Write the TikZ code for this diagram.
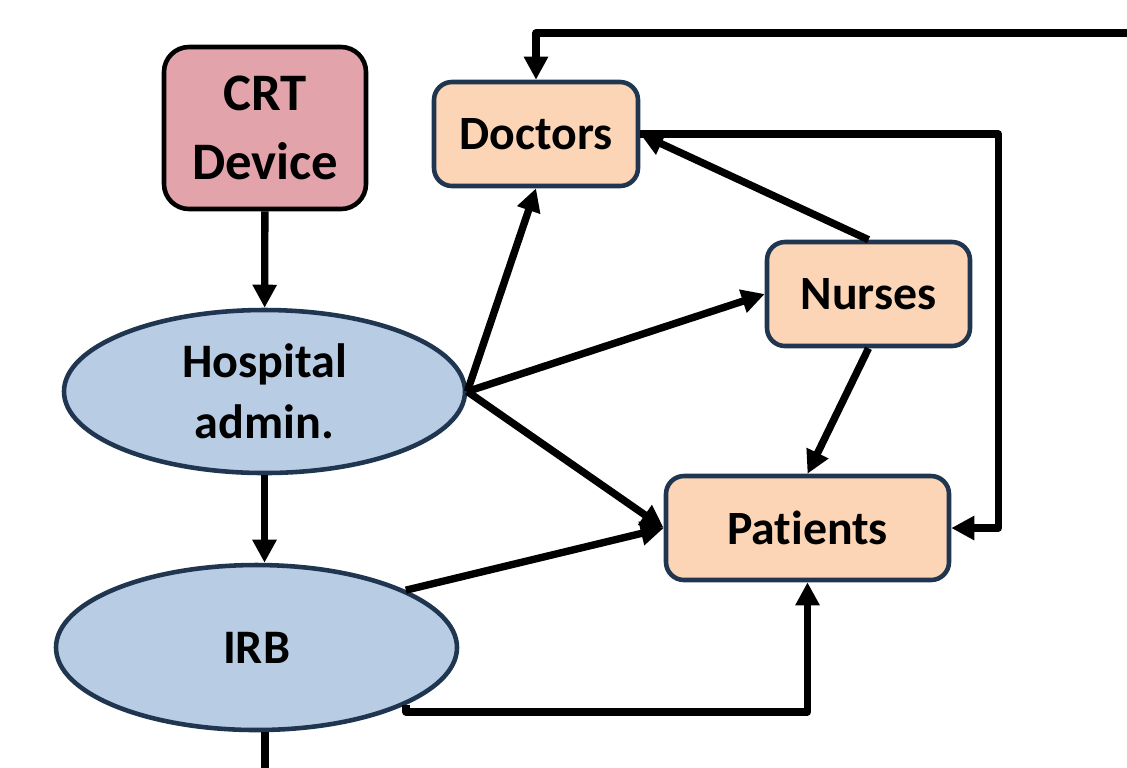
\documentclass[tikz,border=0pt]{standalone}
\usepackage{fontspec}
\setmainfont{Carlito}[RawFeature={-liga;-calt;-dlig}]
\usetikzlibrary{arrows.meta,shapes.geometric}
\definecolor{crtpink}{HTML}{E3A3AA}
\definecolor{staffpeach}{HTML}{FBD5B5}
\definecolor{adminblue}{HTML}{B8CCE4}
\definecolor{navyline}{HTML}{1F3550}

\begin{document}
\begin{tikzpicture}[->, >={Triangle[length=2.3mm,width=2.3mm]}, line width=2.1pt, line join=round]
\tikzstyle{device}=[rectangle, rounded corners=0.25cm, fill=crtpink, draw=black, line width=1.3pt, minimum width=2.02cm, minimum height=1.62cm, align=center, font=\fontsize{15}{19.5}\selectfont\bfseries]
\tikzstyle{staff}=[rectangle, rounded corners=0.18cm, fill=staffpeach, draw=navyline, line width=1.3pt, minimum width=2.04cm, minimum height=1.04cm, align=center, font=\fontsize{13.6}{16}\selectfont\bfseries]
\tikzstyle{board}=[ellipse, inner sep=0pt, fill=adminblue, draw=navyline, line width=1.3pt, minimum width=4.01cm, minimum height=1.63cm, align=center, font=\fontsize{13.7}{17.5}\selectfont\bfseries]
\useasboundingbox (0,0) rectangle (11.27,-7.67);

\node[device]   (CRT)       at (2.65,-1.28)  {CRT\\Device};
\node[board]    (Hospital)  at (2.645,-3.915) {Hospital\\admin.};
\node[board, minimum height=1.65cm]    (IRB)       at (2.565,-6.475) {IRB};
\node[staff]    (Doctors)   at (5.36,-1.34)  {Doctors};
\node[staff, minimum width=2.03cm]     (Nurses)    at (8.685,-2.94) {Nurses};
\node[staff, minimum width=2.83cm]     (Patients)  at (8.075,-5.28) {Patients};

\coordinate (offright)  at (11.5,-0.33);
\coordinate (offbottom) at (2.65,-7.9);

\draw (CRT) -- (Hospital);
\draw (Hospital.south) -- (Hospital.south |- IRB.north);
\draw[-] (offbottom |- IRB.south) -- (offbottom);

\draw (Hospital.east) -- (Doctors.south);
\draw (Hospital.east) -- (Nurses.west);
\draw (Hospital.east) -- (Patients.west);
\draw (IRB.21) -- (Patients.west);
\draw (IRB.-21) -- ++(0,-0.07) -| (Patients.south);

\draw (Nurses.north) -- (Doctors.east);
\draw (Nurses.south) -- (Patients.north);
\draw (Doctors.east) -- ++(3.58,0) |- (Patients.east);
\draw (offright) -| (Doctors.north);
\end{tikzpicture}
\end{document}
